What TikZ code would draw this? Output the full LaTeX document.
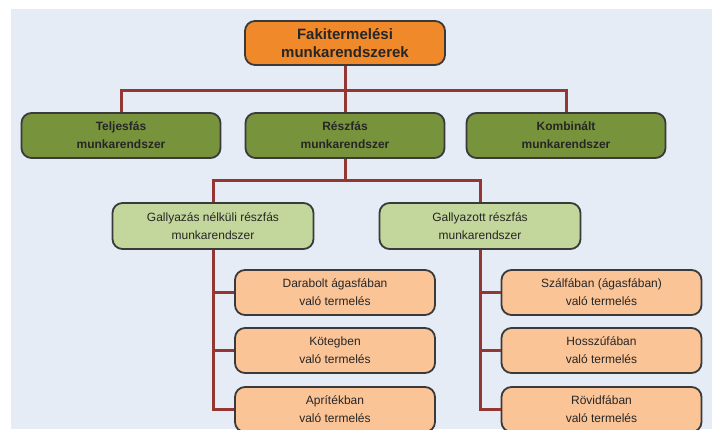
\documentclass[tikz,border=0pt]{standalone}
\usepackage{fontspec}
\setmainfont{Liberation Sans}
\usepackage{tikz}

\definecolor{backblue}{HTML}{E5ECF6}
\definecolor{toporange}{HTML}{F0892A}
\definecolor{olivegreen}{HTML}{77933C}
\definecolor{palegreen}{HTML}{C3D69B}
\definecolor{peach}{HTML}{FBC497}
\definecolor{linkred}{HTML}{943634}
\definecolor{boxborder}{HTML}{3A3A3A}

\tikzstyle{basebox} = [
    rectangle,
    rounded corners=10pt,
    line width=1.8pt,
    draw=boxborder,
    text=black!85,
    align=center,
    inner sep=0pt
]
\tikzstyle{topbox} = [
    basebox,
    fill=toporange,
    minimum width=200pt,
    minimum height=44pt,
    font=\fontsize{15}{18}\selectfont\bfseries
]
\tikzstyle{mainbox} = [
    basebox,
    fill=olivegreen,
    minimum width=199pt,
    minimum height=45pt,
    font=\fontsize{12}{18}\selectfont\bfseries
]
\tikzstyle{subbox} = [
    basebox,
    fill=palegreen,
    minimum width=201pt,
    minimum height=46pt,
    font=\fontsize{12}{18}\selectfont
]
\tikzstyle{leafbox} = [
    basebox,
    fill=peach,
    minimum width=200pt,
    minimum height=45pt,
    font=\fontsize{12}{18}\selectfont
]
\tikzstyle{link} = [line width=3pt, draw=linkred]

\begin{document}
\begin{tikzpicture}[x=1pt, y=-1pt]

\useasboundingbox (0,0) rectangle (715,429);
\clip (0,0) rectangle (715,429);
\fill [backblue] (11,9) rectangle (712,429);

\node (top) [topbox] at (345,43)
{Fakitermelési\\munkarendszerek};

\node (teljes) [mainbox] at (121,135.5)
{Teljesfás\\munkarendszer};

\node (reszfas) [mainbox] at (345,135.5)
{Részfás\\munkarendszer};

\node (kombinalt) [mainbox] at (566,135.5)
{Kombinált\\munkarendszer};

\node (nelkuli) [subbox] at (213,226)
{Gallyazás nélküli részfás\\munkarendszer};

\node (gallyazott) [subbox] at (480,226)
{Gallyazott részfás\\munkarendszer};

\node (darabolt) [leafbox] at (335,292.5)
{Darabolt ágasfában\\való termelés};

\node (koteg) [leafbox] at (335,350.5)
{Kötegben\\való termelés};

\node (apritek) [leafbox] at (335,409.5)
{Aprítékban\\való termelés};

\node (szal) [leafbox] at (601.5,292.5)
{Szálfában (ágasfában)\\való termelés};

\node (hosszu) [leafbox] at (601.5,350.5)
{Hosszúfában\\való termelés};

\node (rovid) [leafbox] at (601.5,409.5)
{Rövidfában\\való termelés};

\coordinate (bus1) at (345,90);
\coordinate (bus2) at (345,180);

\draw [link] (top.south) -- (bus1);
\draw [link] (teljes.north) |- (bus1) -| (kombinalt.north);
\draw [link] (bus1) -- (reszfas.north);
\draw [link] (reszfas.south) -- (bus2);
\draw [link] (nelkuli.north) |- (bus2) -| (gallyazott.north);
\draw [link] (nelkuli.south) |- (darabolt.west);
\draw [link] (nelkuli.south) |- (koteg.west);
\draw [link] (nelkuli.south) |- (apritek.west);
\draw [link] (gallyazott.south) |- (szal.west);
\draw [link] (gallyazott.south) |- (hosszu.west);
\draw [link] (gallyazott.south) |- (rovid.west);

\end{tikzpicture}
\end{document}
